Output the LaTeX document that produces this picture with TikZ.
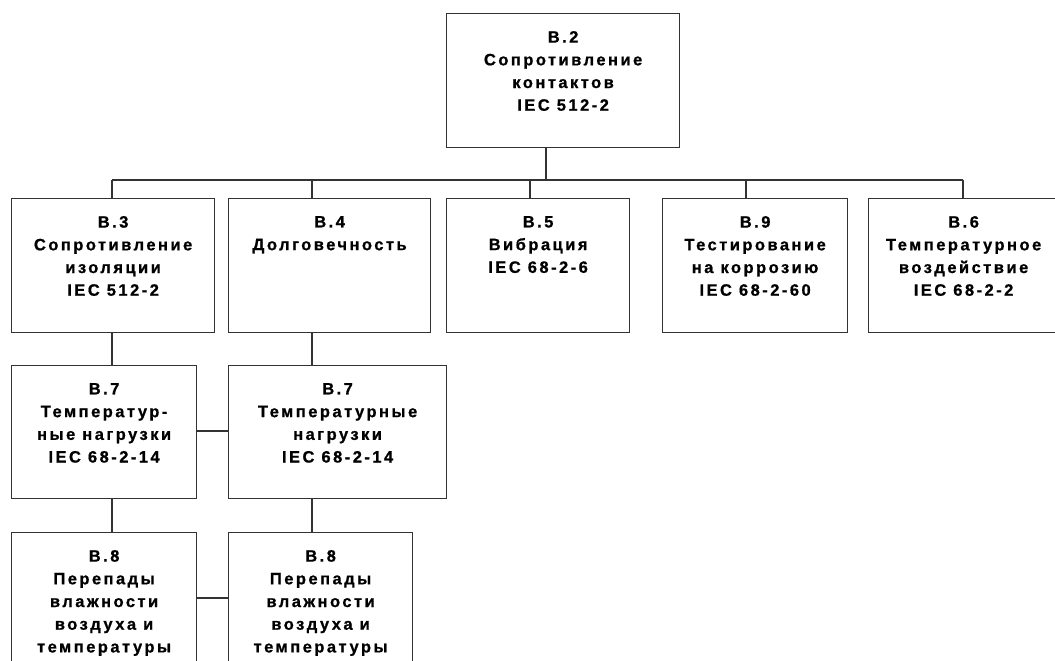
\documentclass[tikz,border=0pt]{standalone}
\usepackage{fontspec}
\setmainfont{Liberation Sans}
\newfontfamily\blkfont{Liberation Sans Bold}[LetterSpace=15, FakeBold=0.8]
\usetikzlibrary{positioning}

% text of a block, set at the top of a fixed-size box
\newcommand{\blktext}[3]{\parbox[c][#2][t]{#1}{\vspace*{17.5pt}\centering
  \blkfont\fontsize{16.5pt}{22.7pt}\selectfont #3}}

\tikzset{
  blk/.style={draw=black!80, line width=1.2pt, inner sep=0pt, anchor=north west},
  link/.style={draw=black!80, line width=1.2pt}
}

\begin{document}
\begin{tikzpicture}[x=1pt, y=-1pt]
    \useasboundingbox (0,0) rectangle (1055,661);
    \clip (0,0) rectangle (1055,661);

    % Top block
    \node[blk] (b2) at (446,13) {\blktext{233pt}{134pt}{B.2\\Сопротивление\\контактов\\IEC 512-2}};

    % Second row
    \node[blk] (b3) at (11,198)  {\blktext{203pt}{134pt}{B.3\\Сопротивление\\изоляции\\IEC 512-2}};
    \node[blk] (b4) at (228,198) {\blktext{202pt}{134pt}{B.4\\Долговечность}};
    \node[blk] (b5) at (446,198) {\blktext{183pt}{134pt}{B.5\\Вибрация\\IEC 68-2-6}};
    \node[blk] (b9) at (662,198) {\blktext{185pt}{134pt}{B.9\\Тестирование\\на коррозию\\IEC 68-2-60}};
    \node[blk] (b6) at (868,198) {\blktext{190pt}{134pt}{B.6\\Температурное\\воздействие\\IEC 68-2-2}};

    % Third row
    \node[blk] (b7a) at (11,365)  {\blktext{185pt}{133pt}{B.7\\Температур-\\ные нагрузки\\IEC 68-2-14}};
    \node[blk] (b7b) at (228,365) {\blktext{218pt}{133pt}{B.7\\Температурные\\нагрузки\\IEC 68-2-14}};

    % Fourth row
    \node[blk] (b8a) at (11,532)  {\blktext{185pt}{160pt}{B.8\\Перепады\\влажности\\воздуха и\\температуры}};
    \node[blk] (b8b) at (228,532) {\blktext{184pt}{160pt}{B.8\\Перепады\\влажности\\воздуха и\\температуры}};

    % Bus under the top block
    \coordinate (top) at (546,180);
    \coordinate (busl) at (112,180);
    \coordinate (busr) at (963,180);
    \draw[link] (b2.south -| top) -- (top);
    \draw[link] (busl) -- (busr);
    \draw[link] (busl) -- (busl |- b3.north);
    \foreach \n/\x in {b4/312, b5/530, b9/746, b6/963} {
        \draw[link] (\x,180) -- (\n.north -| \x,0);
    }

    % Lower chains
    \draw[link] (b3.south -| 112,0) -- (b7a.north -| 112,0);
    \draw[link] (b4.south -| 312,0) -- (b7b.north -| 312,0);
    \draw[link] (b7a.south -| 112,0) -- (b8a.north -| 112,0);
    \draw[link] (b7b.south -| 312,0) -- (b8b.north -| 312,0);
    \draw[link] (b7a.east |- 0,431) -- (b7b.west |- 0,431);
    \draw[link] (b8a.east |- 0,598) -- (b8b.west |- 0,598);
\end{tikzpicture}
\end{document}
